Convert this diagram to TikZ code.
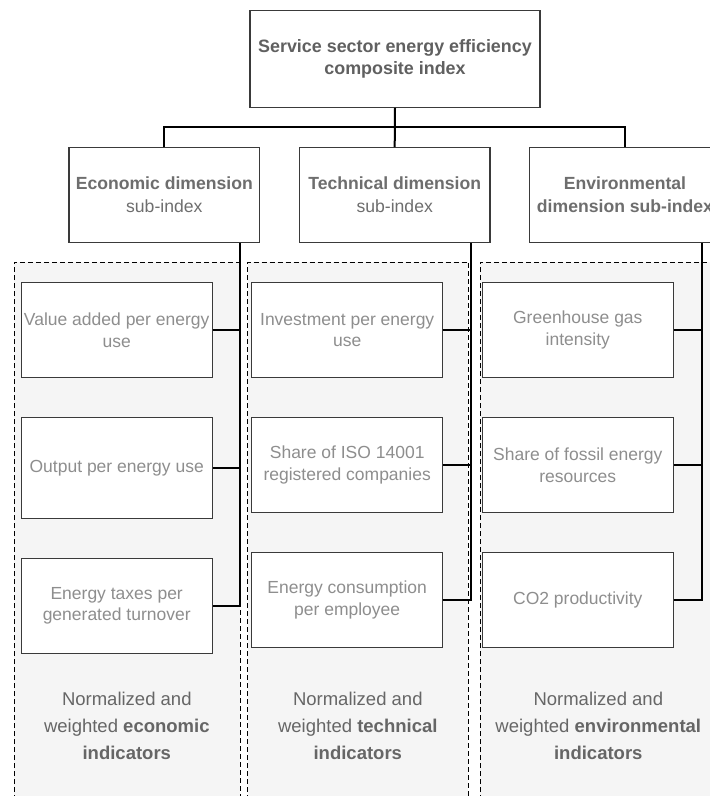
\documentclass[tikz,border=0pt]{standalone}
\usepackage{fontspec}
\setmainfont{Liberation Sans}
\definecolor{boxc}{HTML}{3A3A3A}
\definecolor{grpfill}{HTML}{F5F5F5}
\definecolor{indtext}{HTML}{8E8E8E}
\definecolor{subtext}{HTML}{6E6E6E}
\definecolor{toptext}{HTML}{606060}
\definecolor{bottext}{HTML}{666666}
\begin{document}
\begin{tikzpicture}[x=1pt,y=-1pt,
  box/.style={draw=boxc, line width=1.2pt, fill=white, inner sep=0pt, align=center},
  indbox/.style={box, minimum width=191pt, text=indtext, font=\fontsize{17.5}{21.7}\selectfont},
  subbox/.style={box, minimum width=190.6pt, minimum height=94.8pt, text=subtext, font=\fontsize{17.6}{23}\selectfont},
  topbox/.style={box, minimum width=290pt, minimum height=97pt, text=toptext, font=\fontsize{17.9}{21.7}\selectfont\bfseries},
  conn/.style={draw=black, line width=2pt},
  grpline/.style={draw=black, line width=0.9pt, dash pattern=on 5pt off 3pt},
  bottom/.style={align=center, text=bottext, inner sep=0pt, font=\fontsize{18.5}{27}\selectfont}
]
\useasboundingbox (0,0) rectangle (710,796);
\fill[white] (0,0) rectangle (710,796);
% groups
\fill[grpfill] (14,262) rectangle (240,800);
\fill[grpfill] (247.7,262) rectangle (468.3,800);
\fill[grpfill] (480,262) rectangle (720,800);
\draw[grpline] (14,800) -- (14,262) -- (240,262) -- (240,800);
\draw[grpline] (247.7,800) -- (247.7,262) -- (468.3,262) -- (468.3,800);
\draw[grpline] (480,800) -- (480,262) -- (720,262);
% top and sub-index boxes
\node[topbox] (top) at (395,58.8) {Service sector energy efficiency\\composite index};
\node[subbox] (eco) at (164.3,195.1) {\textbf{Economic dimension}\\sub-index};
\node[subbox] (tec) at (394.7,195.1) {\textbf{Technical dimension}\\sub-index};
\node[subbox] (env) at (625,195.1) {\textbf{Environmental}\\\textbf{dimension sub-index}};
% indicator boxes
\node[indbox, minimum height=95.4pt] (e1) at (116.7,330) {Value added per energy\\use};
\node[indbox, minimum height=100.6pt] (e2) at (116.7,468) {Output per energy use};
\node[indbox, minimum height=95pt] (e3) at (116.7,605.8) {Energy taxes per\\generated turnover};
\node[indbox, minimum height=95.4pt] (t1) at (347.2,330) {Investment per energy\\use};
\node[indbox, minimum height=95pt] (t2) at (347.2,465.2) {Share of ISO 14001\\registered companies};
\node[indbox, minimum height=94.6pt] (t3) at (347.2,600) {Energy consumption\\per employee};
\node[indbox, minimum height=95.4pt] (v1) at (577.8,330) {Greenhouse gas\\intensity};
\node[indbox, minimum height=95pt] (v2) at (577.8,465.2) {Share of fossil energy\\resources};
\node[indbox, minimum height=94.6pt] (v3) at (577.8,600) {CO2 productivity};
% bottom texts
\node[bottom] (eb) at (126.8,726) {Normalized and\\weighted \textbf{economic}\\\textbf{indicators}};
\node[bottom] (tb) at (357.8,726) {Normalized and\\weighted \textbf{technical}\\\textbf{indicators}};
\node[bottom] (vb) at (598.3,726) {Normalized and\\weighted \textbf{environmental}\\\textbf{indicators}};
% tree connectors
\coordinate (bar) at (0,127);
\draw[conn] (top.south) -- (tec.north);
\draw[conn] (eco.north) -- (eco.north |- bar) -- (env.north |- bar) -- (env.north);
% sub-index to indicators
\coordinate (ev) at (240,0);
\coordinate (tv) at (470.7,0);
\coordinate (vv) at (701.7,0);
\draw[conn] (eco.south -| ev) -- (ev |- e3.east) -- (e3.east);
\draw[conn] (e1.east) -- (ev |- e1.east);
\draw[conn] (e2.east) -- (ev |- e2.east);
\draw[conn] (tec.south -| tv) -- (tv |- t3.east) -- (t3.east);
\draw[conn] (t1.east) -- (tv |- t1.east);
\draw[conn] (t2.east) -- (tv |- t2.east);
\draw[conn] (env.south -| vv) -- (vv |- v3.east) -- (v3.east);
\draw[conn] (v1.east) -- (vv |- v1.east);
\draw[conn] (v2.east) -- (vv |- v2.east);
\end{tikzpicture}
\end{document}
